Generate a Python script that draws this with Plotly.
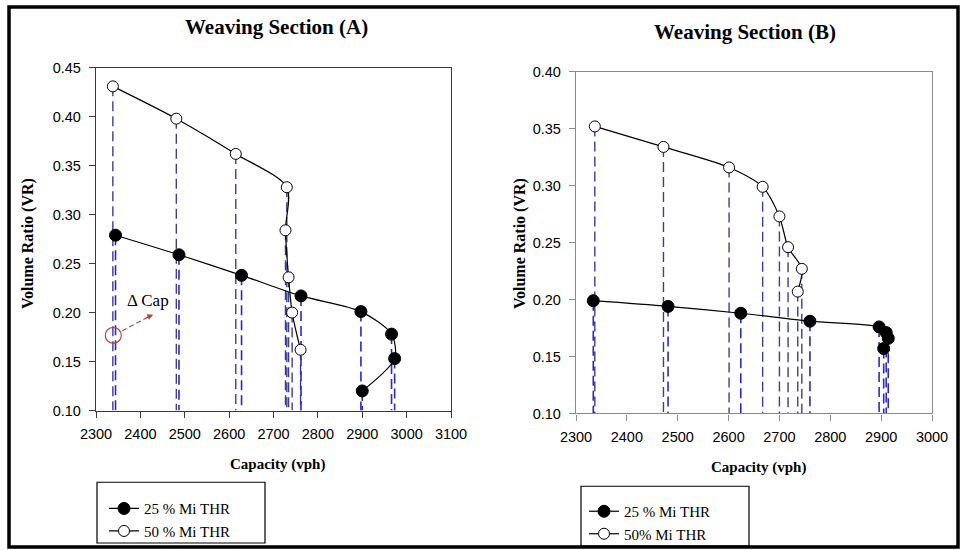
import plotly.graph_objects as go

# ---------------- data ----------------
# Weaving Section (A)
a_cap_25 = [2344, 2487, 2628, 2762, 2897, 2966, 2973, 2900]
a_vr_25 = [0.279, 0.259, 0.238, 0.217, 0.201, 0.178, 0.153, 0.120]
a_cap_50 = [2338, 2481, 2615, 2730, 2727, 2734, 2742, 2761]
a_vr_50 = [0.431, 0.398, 0.362, 0.328, 0.284, 0.236, 0.200, 0.162]

# Weaving Section (B)
b_cap_25 = [2334, 2481, 2624, 2760, 2896, 2910, 2914, 2905]
b_vr_25 = [0.199, 0.194, 0.188, 0.181, 0.176, 0.171, 0.166, 0.157]
b_cap_50 = [2337, 2472, 2601, 2667, 2700, 2717, 2744, 2736]
b_vr_50 = [0.352, 0.334, 0.316, 0.299, 0.273, 0.246, 0.227, 0.207]

# axes / ticks
a_x_ticks = [2300, 2400, 2500, 2600, 2700, 2800, 2900, 3000, 3100]
a_y_ticks = [0.10, 0.15, 0.20, 0.25, 0.30, 0.35, 0.40, 0.45]
b_x_ticks = [2300, 2400, 2500, 2600, 2700, 2800, 2900, 3000]
b_y_ticks = [0.10, 0.15, 0.20, 0.25, 0.30, 0.35, 0.40]

names_a = ["25 % Mi THR", "50 % Mi THR"]
names_b = ["25 % Mi THR", "50% Mi THR"]

# ---------------- styles ----------------
W, H = 960, 550
SERIF = "Times New Roman, Liberation Serif, serif"
SANS = "Arial, Liberation Sans, sans-serif"
DROP_DASH = "10px,5px"
C_DROP_25 = "#2828c8"
C_DROP_50 = "#3c3c94"


def px_x(p):
    return p / W


def px_y(p):
    return 1 - p / H


def drops(xs, ys, base):
    X, Y = [], []
    for x, y in zip(xs, ys):
        X += [x, x, None]
        Y += [y, base, None]
    return X, Y


fig = go.Figure()

panels = [
    ("x", "y", a_cap_25, a_vr_25, a_cap_50, a_vr_50, a_y_ticks[0], names_a, "legend"),
    ("x2", "y2", b_cap_25, b_vr_25, b_cap_50, b_vr_50, b_y_ticks[0], names_b, "legend2"),
]

for xr, yr, c25, v25, c50, v50, base, nm, lg in panels:
    dx, dy = drops(c50, v50, base)
    fig.add_trace(go.Scatter(x=dx, y=dy, mode="lines", xaxis=xr, yaxis=yr,
                             line=dict(color=C_DROP_50, width=1.4, dash=DROP_DASH),
                             showlegend=False, hoverinfo="skip"))
    dx, dy = drops(c25, v25, base)
    fig.add_trace(go.Scatter(x=dx, y=dy, mode="lines", xaxis=xr, yaxis=yr,
                             line=dict(color=C_DROP_25, width=1.6, dash=DROP_DASH),
                             showlegend=False, hoverinfo="skip"))
    fig.add_trace(go.Scatter(x=c25, y=v25, mode="lines+markers", name=nm[0],
                             xaxis=xr, yaxis=yr, legend=lg,
                             line=dict(color="black", width=1.2, shape="spline", smoothing=0.8),
                             marker=dict(symbol="circle", size=12, color="black",
                                         line=dict(color="black", width=1))))
    fig.add_trace(go.Scatter(x=c50, y=v50, mode="lines+markers", name=nm[1],
                             xaxis=xr, yaxis=yr, legend=lg,
                             line=dict(color="black", width=1.2, shape="spline", smoothing=0.8),
                             marker=dict(symbol="circle", size=11, color="white",
                                         line=dict(color="black", width=1))))

axis_common = dict(showgrid=False, zeroline=False, ticks="outside", ticklen=6,
                   tickwidth=1, mirror=True, showline=True,
                   tickfont=dict(family=SANS, size=14.5, color="black"))

fig.update_layout(
    width=W, height=H, template="none",
    margin=dict(l=0, r=0, t=0, b=0),
    paper_bgcolor="white", plot_bgcolor="white",
    xaxis=dict(domain=[px_x(96), px_x(451)], range=[2300, 3100], tickvals=a_x_ticks,
               anchor="y", linecolor="#3a3a3a", linewidth=1.3, tickcolor="#3a3a3a",
               ticklabelstandoff=4, **axis_common),
    yaxis=dict(domain=[px_y(412), px_y(68)], range=[0.10, 0.45], tickvals=a_y_ticks,
               tickformat=".2f", anchor="x", linecolor="#3a3a3a", linewidth=1.3,
               tickcolor="#3a3a3a", ticklabelstandoff=5, **axis_common),
    xaxis2=dict(domain=[px_x(576), px_x(932)], range=[2300, 3000], tickvals=b_x_ticks,
                anchor="y2", linecolor="#8a8a8a", linewidth=1.3, tickcolor="#8a8a8a",
                ticklabelstandoff=4, **axis_common),
    yaxis2=dict(domain=[px_y(415), px_y(72)], range=[0.10, 0.40], tickvals=b_y_ticks,
                tickformat=".2f", anchor="x2", linecolor="#8a8a8a", linewidth=1.3,
                tickcolor="#8a8a8a", ticklabelstandoff=5, **axis_common),
    legend=dict(x=px_x(104), y=px_y(494), xanchor="left", yanchor="top",
                bgcolor="rgba(0,0,0,0)", borderwidth=0, tracegroupgap=0,
                font=dict(family=SERIF, size=15, color="black")),
    legend2=dict(x=px_x(584), y=px_y(497), xanchor="left", yanchor="top",
                 bgcolor="rgba(0,0,0,0)", borderwidth=0, tracegroupgap=0,
                 font=dict(family=SERIF, size=15, color="black")),
    showlegend=True,
)

# titles and axis titles
texts = [
    ("Weaving Section (A)", 276, 27, 21, 0),
    ("Weaving Section (B)", 745, 32, 21, 0),
    ("Capacity (vph)", 277, 466, 15, 0),
    ("Capacity (vph)", 758, 469, 15, 0),
    ("Volume Ratio (VR)", 28, 245, 16, -90),
    ("Volume Ratio (VR)", 520, 245, 16, -90),
]
for t, x, y, s, ang in texts:
    fig.add_annotation(text="<b>%s</b>" % t, x=px_x(x), y=px_y(y), xref="paper", yref="paper",
                       showarrow=False, textangle=ang, xanchor="center", yanchor="middle",
                       font=dict(family=SERIF, size=s, color="black"))

# Delta Cap annotation (left panel)
fig.add_annotation(text="Δ Cap", x=2418, y=0.2125, xref="x", yref="y", showarrow=False,
                   font=dict(family=SERIF, size=17, color="black"))
fig.add_shape(type="circle", xref="x", yref="y", x0=2321, x1=2357, y0=0.1686, y1=0.1848,
              line=dict(color="#c0403a", width=1.2))
fig.add_shape(type="line", xref="x", yref="y", x0=2359, y0=0.1814, x1=2424, y1=0.1970,
              line=dict(color="#b04a40", width=1.2, dash="5px,3px"))
fig.add_annotation(text="", x=2429, y=0.1979, xref="x", yref="y", ax=-9, ay=4,
                   showarrow=True, arrowhead=2, arrowsize=1, arrowwidth=1.2,
                   arrowcolor="#b04a40")

# legend boxes
fig.add_shape(type="rect", xref="paper", yref="paper", x0=px_x(97), x1=px_x(265),
              y0=px_y(545), y1=px_y(484), line=dict(color="black", width=1.2))
fig.add_shape(type="rect", xref="paper", yref="paper", x0=px_x(581), x1=px_x(749),
              y0=px_y(548), y1=px_y(488), line=dict(color="black", width=1.2))

# outer frame
fig.add_shape(type="rect", xref="paper", yref="paper", x0=px_x(9), x1=px_x(958),
              y0=px_y(549), y1=px_y(7), line=dict(color="black", width=3.5))

fig.write_html("out.html")
